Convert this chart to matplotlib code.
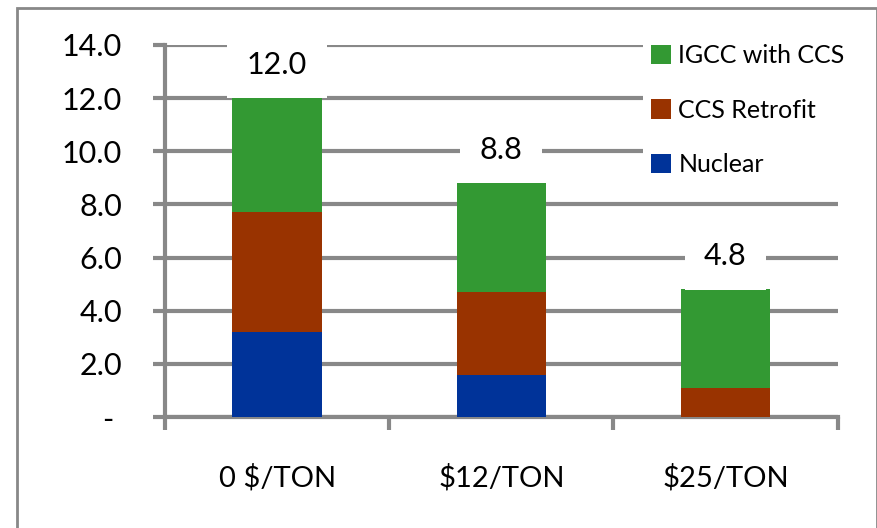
import matplotlib
matplotlib.use("Agg")
import matplotlib.pyplot as plt
import numpy as np
from matplotlib.patches import Rectangle

plt.rcParams['font.family'] = ['Lato', 'DejaVu Sans']

categories = ["0 $/TON", "$12/TON", "$25/TON"]
nuclear = [3.2, 1.6, 0.0]
ccs_retrofit = [4.5, 3.1, 1.1]
igcc_ccs = [4.3, 4.1, 3.7]
totals = [12.0, 8.8, 4.8]

green = "#339933"
brown = "#993300"
blue = "#003399"
grid_grey = "#888888"

fig = plt.figure(figsize=(8.78, 5.28), dpi=100)
ax = fig.add_axes([0.188, 0.21, 0.766, 0.705])

x = np.arange(len(categories))
w = 0.4
nuc = np.array(nuclear)
ccs = np.array(ccs_retrofit)
igcc = np.array(igcc_ccs)
b1 = ax.bar(x, nuc, w, color=blue, label="Nuclear", zorder=3)
b2 = ax.bar(x, ccs, w, bottom=nuc, color=brown, label="CCS Retrofit", zorder=3)
b3 = ax.bar(x, igcc, w, bottom=nuc + ccs, color=green, label="IGCC with CCS", zorder=3)

# totals above each stack, boxed in white so the gridlines break around them
for xi, t in zip(x, totals):
    ax.text(xi, t + 1.25, f"{t:.1f}", ha="center", va="center", fontsize=22,
            zorder=4, bbox=dict(facecolor="white", edgecolor="none", pad=14))

ax.set_xlim(-0.5, 2.5)
ax.set_ylim(0, 14)
yt = np.arange(0, 15, 2)
ax.set_yticks(yt)
ax.set_yticklabels(["- "] + [f"{v:.1f}" for v in yt[1:]], fontsize=22)
ax.yaxis.grid(True, color=grid_grey, linewidth=3, zorder=0)
ax.tick_params(axis="y", length=9, width=3, color=grid_grey, pad=22)

# ticks sit on category boundaries, labels in the middle
ax.set_xticks(np.arange(-0.5, 3, 1))
ax.set_xticklabels([])
ax.set_xticks(x, minor=True)
ax.set_xticklabels(categories, minor=True, fontsize=21)
ax.tick_params(axis="x", which="major", length=9, width=3, color=grid_grey)
ax.tick_params(axis="x", which="minor", length=0, pad=34)

for side in ["top", "right"]:
    ax.spines[side].set_visible(False)
for side in ["left", "bottom"]:
    ax.spines[side].set_color(grid_grey)
    ax.spines[side].set_linewidth(3)
ax.set_axisbelow(True)

leg = ax.legend(handles=[b3, b2, b1], loc="upper right", bbox_to_anchor=(1.04, 1.055),
                fontsize=18, frameon=True, framealpha=1, edgecolor="white",
                handlelength=0.8, handleheight=0.8, handletextpad=0.3,
                labelspacing=1.25, borderpad=0.3)
leg.set_zorder(5)
leg.get_frame().set_linewidth(0)

fig.patches.append(Rectangle((17 / 878, -0.05), 860 / 878, 1 - 8 / 528 + 0.05,
                             transform=fig.transFigure, fill=False,
                             edgecolor=grid_grey, linewidth=2))

fig.savefig("out.png", dpi=100)
